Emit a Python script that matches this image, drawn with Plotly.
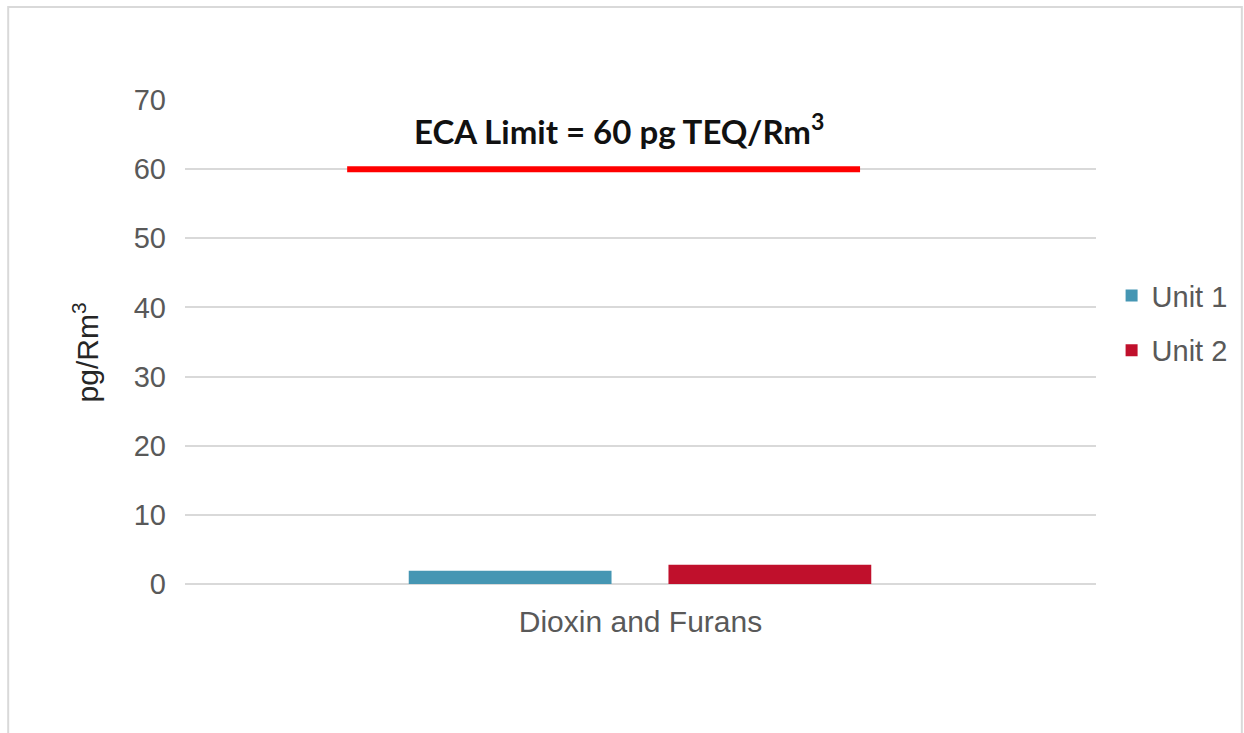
import plotly.graph_objects as go

categories = ["Dioxin and Furans"]
unit1_values = [1.9]
unit2_values = [2.8]
series_names = ["Unit 1", "Unit 2"]
limit_value = 60
limit_label = "ECA Limit = 60 pg TEQ/Rm<sup>3</sup>"
y_title = "pg/Rm<sup>3</sup>"
y_ticks = [0, 10, 20, 30, 40, 50, 60, 70]

tick_font = dict(family="Liberation Sans, Arial, sans-serif", size=29, color="#595959")

fig = go.Figure()
fig.add_trace(go.Bar(
    x=categories, y=unit1_values, name=series_names[0],
    marker=dict(color="#4596b3", line=dict(width=0)),
    width=0.2226, offset=-0.2544, legendgroup="g1",
))
fig.add_trace(go.Bar(
    x=categories, y=unit2_values, name=series_names[1],
    marker=dict(color="#c0102c", line=dict(width=0)),
    width=0.2226, offset=0.0307, legendgroup="g2",
))

# limit line
fig.add_shape(type="line", xref="x", yref="y",
              x0=-0.322, x1=0.241, y0=limit_value, y1=limit_value,
              line=dict(color="#ff0000", width=6), layer="above")
fig.add_annotation(xref="x", yref="y", x=-0.0236, y=65.8,
                   text=limit_label, showarrow=False,
                   font=dict(family="Lato, Open Sans, sans-serif", size=33, color="#111111", weight="bold"),
                   xanchor="center", yanchor="middle")

# y-axis title as rotated annotation
fig.add_annotation(xref="paper", yref="y", x=(86 - 185) / 912, y=33.5,
                   text=y_title, showarrow=False, textangle=-90,
                   font=dict(family="Liberation Sans, Arial, sans-serif", size=30, color="#262626"),
                   xanchor="center", yanchor="middle")

# chart-area border
fig.add_shape(type="rect", xref="paper", yref="paper",
              x0=(8 - 185) / 912, x1=(1243 - 185) / 912,
              y0=-0.5, y1=(584 - 7) / 484,
              line=dict(color="#d9d9d9", width=2), layer="below")

fig.update_layout(
    width=1244, height=733,
    margin=dict(l=185, r=147, t=100, b=149),
    paper_bgcolor="white", plot_bgcolor="white",
    barmode="overlay",
    showlegend=True,
    legend=dict(x=1.016, y=0.539, xanchor="left", yanchor="middle",
                font=tick_font, traceorder="grouped", tracegroupgap=14,
                bgcolor="rgba(0,0,0,0)"),
    xaxis=dict(range=[-0.5, 0.5], showgrid=False, showline=False,
               tickfont=dict(family="Liberation Sans, Arial, sans-serif", size=30, color="#595959"),
               ticks="", ticklabelstandoff=17),
    yaxis=dict(range=[0, 70], tickvals=y_ticks, showgrid=True,
               gridcolor="#d9d9d9", gridwidth=1.5,
               zeroline=True, zerolinecolor="#d9d9d9", zerolinewidth=1.5,
               showline=False, ticks="", tickfont=tick_font,
               ticklabelstandoff=18),
)

fig.write_html("out.html")
